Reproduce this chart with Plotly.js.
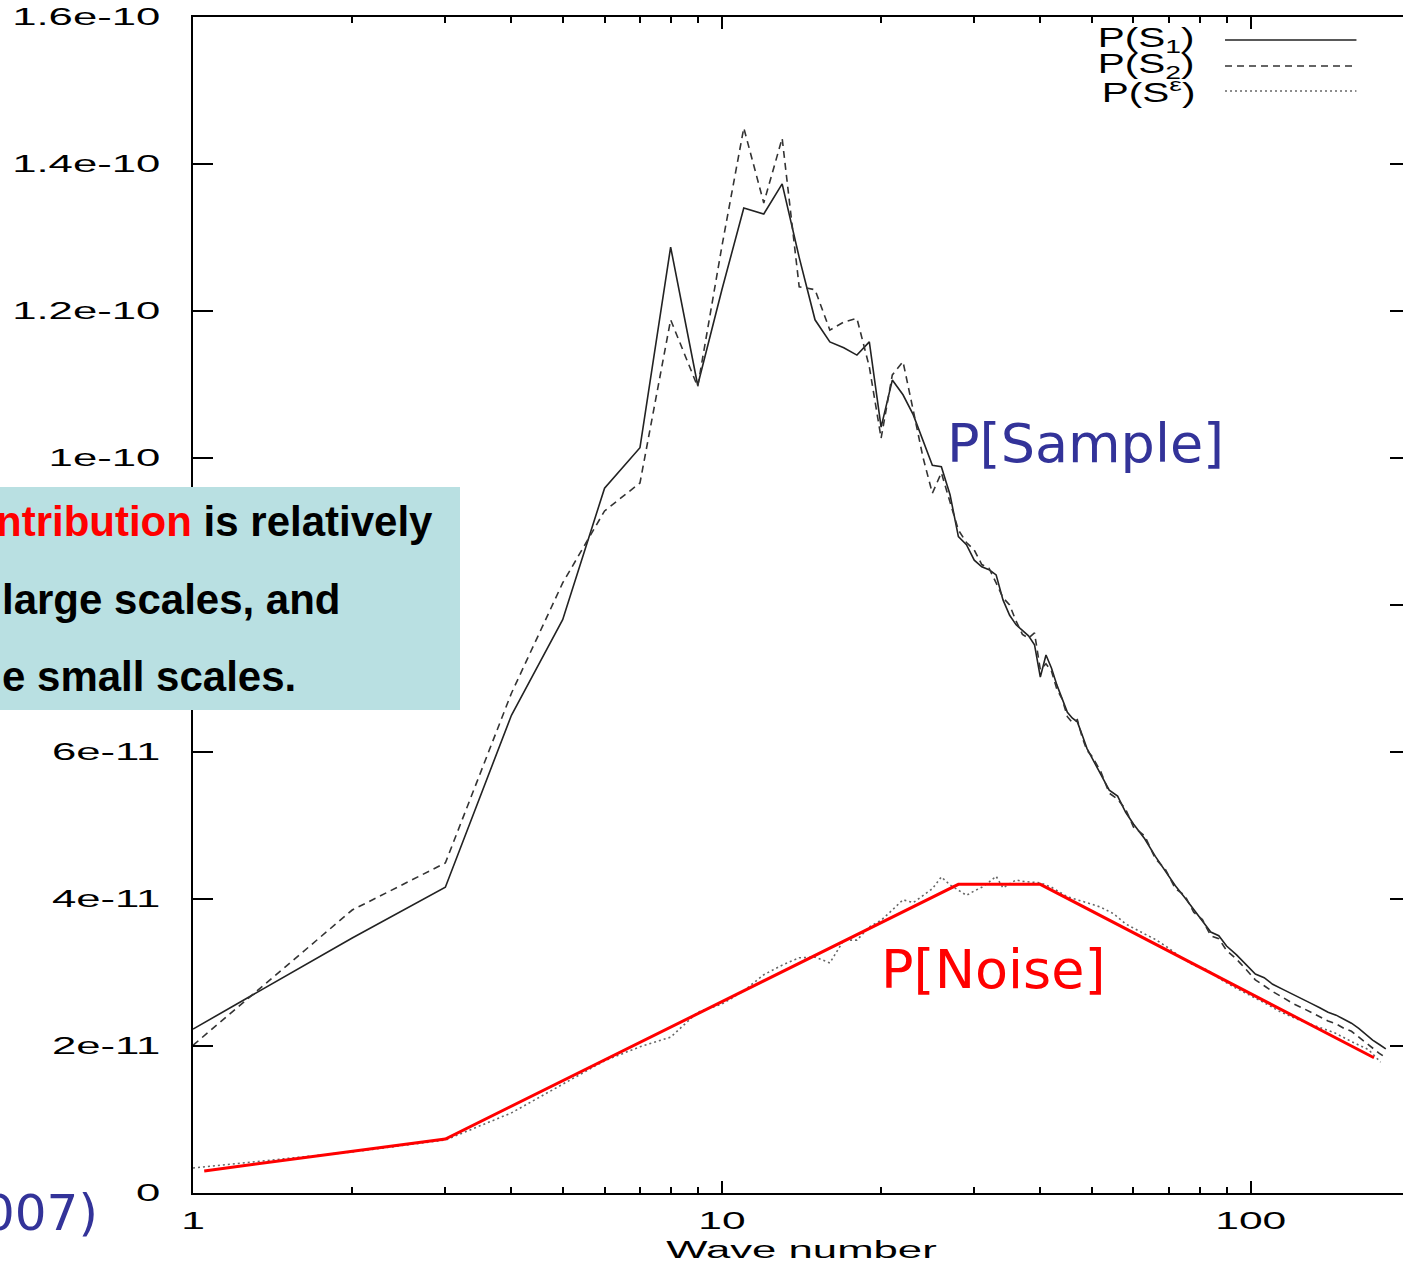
<!DOCTYPE html>
<html>
<head>
<meta charset="utf-8">
<script src="https://cdn.plot.ly/plotly-3.0.1.min.js"></script>
<style>
html, body { margin: 0; padding: 0; overflow: hidden; background: #fff; }
#chart { width: 1410px; height: 1269px; }
</style>
</head>
<body>
<div id="chart"></div>
<script>
// ---- Data (values in units of 1e-11) ----
const kS = [1,2,3,4,5,6,7,8,9,10,11,12,13,14,15,16,17,18,19,20,21,22,23,24,25,26,27,28,29,30,
  31,32,33,34,35,36,37,38,39,40,41,42,43,44,45,46,47,48,49,50,
  52,54,56,58,60,63,66,69,72,75,78,81,84,87,90,94,98,102,106,110,115,120,125,130,135,140,145,150,155,160,165,170,175,180];

const pS1 = [2.23,3.47,4.16,6.50,7.80,9.59,10.14,12.87,10.99,12.29,13.40,13.32,13.73,12.73,11.88,11.58,11.50,11.40,11.58,10.42,
  11.06,10.86,10.59,10.24,9.90,9.88,9.50,8.93,8.82,8.61,8.52,8.48,8.41,8.07,7.86,7.73,7.66,7.58,7.46,7.02,
  7.32,7.14,6.91,6.71,6.54,6.46,6.41,6.23,6.05,5.93,
  5.70,5.48,5.40,5.18,5.02,4.82,4.58,4.38,4.18,4.02,3.86,3.70,3.55,3.50,3.36,3.24,3.10,2.98,2.93,2.84,
  2.77,2.70,2.64,2.58,2.52,2.46,2.42,2.36,2.31,2.24,2.16,2.08,2.02,1.96];

const pS2 = [2.01,3.85,4.49,6.80,8.30,9.28,9.66,11.88,10.97,12.88,14.49,13.47,14.35,12.33,12.29,11.74,11.85,11.90,11.24,10.27,
  11.13,11.31,10.65,10.01,9.52,9.80,9.40,9.02,8.85,8.75,8.55,8.50,8.30,8.10,8.00,7.78,7.60,7.55,7.62,7.12,
  7.20,7.10,6.85,6.72,6.48,6.40,6.44,6.20,6.02,5.95,
  5.74,5.44,5.36,5.22,4.98,4.86,4.55,4.40,4.14,4.05,3.82,3.72,3.50,3.46,3.30,3.18,3.04,2.90,2.82,2.74,
  2.66,2.58,2.52,2.46,2.40,2.34,2.30,2.24,2.20,2.12,2.04,1.96,1.90,1.84];

const kE = [1,2,3,4,5,6,7,8,9,10,11,12,13,14,15,16,17,18,19,20,21,22,23,24,25,26,27,28,29,30,
  31,32,33,34,35,36,37,38,39,40,42,45,49,52,55,58,62,66,70,74,78,83,88,93,99,106,114,124,134,144,155,167,176];

const pSe = [0.34,0.56,0.72,1.09,1.48,1.80,1.99,2.12,2.46,2.57,2.75,2.97,3.10,3.20,3.21,3.13,3.44,3.44,3.62,3.71,
  3.85,3.99,3.95,4.05,4.14,4.30,4.19,4.12,4.05,4.11,4.16,4.23,4.31,4.15,4.20,4.26,4.24,4.23,4.23,4.22,
  4.16,4.03,3.95,3.89,3.80,3.66,3.55,3.45,3.33,3.20,3.10,3.03,2.90,2.80,2.70,2.59,2.46,2.35,2.26,2.18,2.06,1.95,1.78];

const kNoise = [1.05, 3, 28, 40, 171];
const pNoise = [0.30, 0.735, 4.20, 4.20, 1.84];

const xTickVals = [1, 10, 100];
const xTickText = ['1', '10', '100'];
const xMinorVals = [2,3,4,5,6,7,8,9,20,30,40,50,60,70,80,90,200];
const yTickVals = [0, 2, 4, 6, 8, 10, 12, 14, 16];
const yTickText = ['0', '2e-11', '4e-11', '6e-11', '8e-11', '1e-10', '1.2e-10', '1.4e-10', '1.6e-10'];

const legendLabels = ['P(S<sub>1</sub>)', 'P(S<sub>2</sub>)', 'P(S<sup>ε</sup>)'];

// ---- Traces ----
const traces = [
  { x: kS, y: pS1, type: 'scatter', mode: 'lines', name: 'P(S1)',
    line: { color: '#222222', width: 1.6 } },
  { x: kS, y: pS2, type: 'scatter', mode: 'lines', name: 'P(S2)',
    line: { color: '#333333', width: 1.6, dash: '7px,5px' } },
  { x: kE, y: pSe, type: 'scatter', mode: 'lines', name: 'P(Se)',
    line: { color: '#666666', width: 1.6, dash: '2px,3px' } },
  { x: kNoise, y: pNoise, type: 'scatter', mode: 'lines', name: 'P[Noise]',
    line: { color: '#ff0000', width: 3 } }
];

const tickFont = { family: 'Liberation Sans, Arial, sans-serif', size: 23, color: '#000' };
const legendY = [0.9804, 0.9583, 0.9371];
const legendDash = ['solid', '7px,5px', '2px,3px'];
const legendColor = ['#222222', '#333333', '#666666'];

const annotations = [];
legendLabels.forEach((t, i) => annotations.push({
  xref: 'paper', yref: 'paper', x: 0.825, y: legendY[i], xanchor: 'right', yanchor: 'middle',
  align: 'right', text: t, showarrow: false,
  font: { family: 'Liberation Sans, Arial, sans-serif', size: 27, color: '#000' }
}));
annotations.push(
  { xref: 'paper', yref: 'paper', x: 0.618, y: 0.637, xanchor: 'left', yanchor: 'middle',
    text: 'P[Sample]', showarrow: false,
    font: { family: 'DejaVu Sans, Verdana, sans-serif', size: 54, color: '#333399' } },
  { xref: 'paper', yref: 'paper', x: 0.564, y: 0.190, xanchor: 'left', yanchor: 'middle',
    text: 'P[Noise]', showarrow: false,
    font: { family: 'DejaVu Sans, Verdana, sans-serif', size: 54, color: '#ff0000' } },
  { xref: 'paper', yref: 'paper', x: -0.1635, y: 0.5706, xanchor: 'left', yanchor: 'middle',
    text: '<span style="color:#ff0000">ntribution</span> is relatively', showarrow: false,
    font: { family: 'Liberation Sans, Arial, sans-serif', size: 42, color: '#000', weight: 'bold' } },
  { xref: 'paper', yref: 'paper', x: -0.1586, y: 0.5043, xanchor: 'left', yanchor: 'middle',
    text: 'large scales, and', showarrow: false,
    font: { family: 'Liberation Sans, Arial, sans-serif', size: 42, color: '#000', weight: 'bold' } },
  { xref: 'paper', yref: 'paper', x: -0.1586, y: 0.4388, xanchor: 'left', yanchor: 'middle',
    text: 'e small scales.', showarrow: false,
    font: { family: 'Liberation Sans, Arial, sans-serif', size: 42, color: '#000', weight: 'bold' } },
  { xref: 'paper', yref: 'paper', x: -0.0764, y: -0.017, xanchor: 'right', yanchor: 'middle',
    text: '007)', showarrow: false,
    font: { family: 'DejaVu Sans, Verdana, sans-serif', size: 50, color: '#333399' } }
);

const shapes = [];
legendY.forEach((y, i) => shapes.push({
  type: 'line', xref: 'paper', yref: 'paper', x0: 0.848, x1: 0.956, y0: y, y1: y,
  line: { color: legendColor[i], width: 1.5, dash: legendDash[i] }
}));
shapes.push({
  type: 'rect', xref: 'paper', yref: 'paper', x0: -0.17, x1: 0.2194, y0: 0.4107, y1: 0.6003,
  fillcolor: '#b9e0e2', line: { width: 0 }, layer: 'above'
});

const layout = {
  width: 1410, height: 1269,
  margin: { l: 193, r: 0, t: 17, b: 76, pad: 0 },
  paper_bgcolor: '#fff', plot_bgcolor: '#fff',
  showlegend: false,
  xaxis: {
    type: 'log', range: [0, Math.log10(200)],
    tickvals: xTickVals, ticktext: xTickText,
    ticks: 'inside', ticklen: 12, tickwidth: 2, tickcolor: '#000',
    minor: { tickvals: xMinorVals, ticks: 'inside', ticklen: 6, tickwidth: 2, tickcolor: '#000', showgrid: false },
    showline: true, linecolor: '#000', linewidth: 2, mirror: 'ticks',
    showgrid: false, zeroline: false,
    tickfont: tickFont, ticklabelstandoff: 6,
    title: { text: 'Wave number', font: { family: 'Liberation Sans, Arial, sans-serif', size: 23, color: '#000' }, standoff: 9 }
  },
  yaxis: {
    range: [0, 16],
    tickvals: yTickVals, ticktext: yTickText,
    ticks: 'inside', ticklen: 20, tickwidth: 2, tickcolor: '#000',
    showline: true, linecolor: '#000', linewidth: 2, mirror: 'ticks',
    showgrid: false, zeroline: false,
    tickfont: tickFont, ticklabelstandoff: 26
  },
  annotations: annotations,
  shapes: shapes
};

function stretch(sel, f) {
  document.querySelectorAll(sel).forEach(t => {
    const w = t.getComputedTextLength();
    if (w > 0) {
      t.setAttribute('textLength', (w * f).toFixed(1));
      t.setAttribute('lengthAdjust', 'spacingAndGlyphs');
    }
  });
}

Plotly.newPlot('chart', traces, layout, { staticPlot: true, responsive: false }).then(() => {
  stretch('.ytick text', 1.9);
  stretch('.xtick text', 1.85);
  stretch('.g-xtitle text', 1.9);
  [0, 1, 2].forEach(i => stretch('.annotation[data-index="' + i + '"] text', 1.5));
});
</script>
</body>
</html>
